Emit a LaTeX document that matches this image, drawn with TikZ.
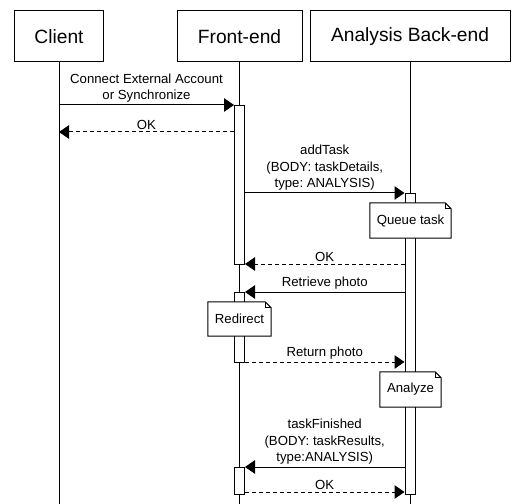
\documentclass[tikz,border=0pt]{standalone}
\usepackage{fontspec}
\setmainfont{Liberation Sans}
\usetikzlibrary{arrows.meta, positioning}
\frenchspacing

% folded corner of a note
\newcommand{\notefold}[1]{%
  \draw[line width=1bp] (#1.north west) -- ([xshift=-6bp]#1.north east) -- ([yshift=-6bp]#1.north east) -- (#1.south east) -- (#1.south west) -- cycle;
  \draw[line width=1bp] ([xshift=-6bp]#1.north east) |- ([yshift=-6bp]#1.north east);
}

\begin{document}
\begin{tikzpicture}[
    x=1bp, y=-1bp,
    headbox/.style={rectangle, draw, line width=1bp, minimum height=51bp, inner sep=0pt, font=\fontsize{19.2bp}{23bp}\selectfont},
    actbar/.style={rectangle, draw, fill=white, line width=1bp, minimum width=10bp, inner sep=0pt, anchor=north},
    lifeline/.style={draw, line width=1bp},
    msg/.style={draw, line width=1bp, -{Triangle[length=10bp, width=13.5bp]}},
    reply/.style={msg, dash pattern=on 4bp off 3bp},
    msglabel/.style={above, inner sep=2bp, align=center, font=\fontsize{13.2bp}{16.5bp}\selectfont},
    notebox/.style={rectangle, fill=white, inner sep=0pt, font=\fontsize{13.2bp}{16.5bp}\selectfont}
]
\useasboundingbox (0,0) rectangle (524,504);
\coordinate (bottom) at (0,504);

% Participants
\node[headbox, minimum width=88bp] (client) at (59,36.5) {Client};
\node[headbox, minimum width=125bp] (front) at (239.5,36.5) {Front-end};
\node[headbox, minimum width=200bp] (back) at (410,36.5) {Analysis Back-end};

% Lifelines
\draw[lifeline] (client) -- (client |- bottom);
\draw[lifeline] (front) -- (front |- bottom);
\draw[lifeline] (back) -- (back |- bottom);

% Activation bars
\node[actbar, minimum height=159bp] (fb1) at (239.5,105) {};
\node[actbar, minimum height=70bp] (fb2) at (239.5,292) {};
\node[actbar, minimum height=27bp] (fb3) at (239.5,467) {};
\node[actbar, minimum height=301bp] (bb1) at (410,193) {};

% Notes
\node[notebox, minimum width=81bp, minimum height=35bp] (queue) at (410.5,220.5) {Queue task};
\notefold{queue}
\node[notebox, minimum width=63bp, minimum height=34bp] (redirect) at (239.5,319) {Redirect};
\notefold{redirect}
\node[notebox, minimum width=61bp, minimum height=35bp] (analyze) at (410.5,389.5) {Analyze};
\notefold{analyze}

% Message rows
\coordinate (r1) at (0,105);
\coordinate (r2) at (0,132);
\coordinate (r3) at (0,193);
\coordinate (r4) at (0,264);
\coordinate (r5) at (0,292);
\coordinate (r6) at (0,362);
\coordinate (r7) at (0,467);
\coordinate (r8) at (0,492);

% Messages
\draw[msg] (client |- r1) -- (fb1.west |- r1) node[msglabel, midway] {Connect External Account\\or Synchronize};
\draw[reply] (fb1.west |- r2) -- (client |- r2) node[msglabel, midway] {OK};
\draw[msg] (fb1.east |- r3) -- (bb1.west |- r3) node[msglabel, midway] {addTask\\(BODY: taskDetails,\\type: ANALYSIS)};
\draw[reply] (bb1.west |- r4) -- (fb1.east |- r4) node[msglabel, midway] {OK};
\draw[msg] (bb1.west |- r5) -- (fb2.east |- r5) node[msglabel, midway] {Retrieve photo};
\draw[reply] (fb2.east |- r6) -- (bb1.west |- r6) node[msglabel, midway] {Return photo};
\draw[msg] (bb1.west |- r7) -- (fb3.east |- r7) node[msglabel, midway] {taskFinished\\(BODY: taskResults,\\type:ANALYSIS)};
\draw[reply] (fb3.east |- r8) -- (bb1.west |- r8) node[msglabel, midway] {OK};

\end{tikzpicture}
\end{document}
